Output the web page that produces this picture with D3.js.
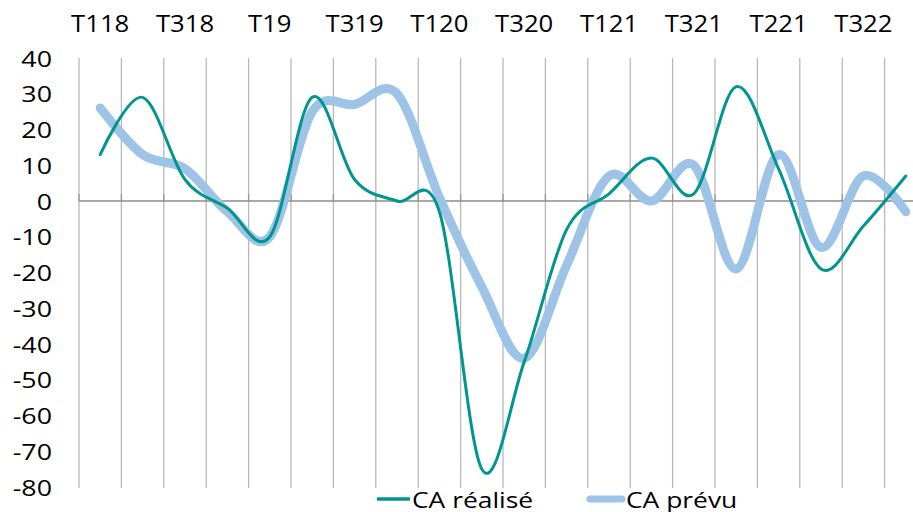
<!DOCTYPE html>
<html>
<head>
<meta charset="utf-8">
<script src="https://cdn.jsdelivr.net/npm/d3@7"></script>
<style>
  html, body { margin: 0; padding: 0; background: #fff; }
  svg { display: block; font-family: "Open Sans", sans-serif; }
</style>
</head>
<body>
<div id="chart"></div>
<script>
// quarters T1 2018 .. T4 2022
const quarters = [
  "T118", "T218", "T318", "T418", "T119", "T219", "T319", "T419",
  "T120", "T220", "T320", "T420", "T121", "T221", "T321", "T421",
  "T122", "T222", "T322", "T422"
];
// labels printed on top, every second quarter (as in the source)
const tickLabels = ["T118", "T318", "T19", "T319", "T120", "T320", "T121", "T321", "T221", "T322"];
const yTicks = [40, 30, 20, 10, 0, -10, -20, -30, -40, -50, -60, -70, -80];

const caRealise = [13, 29, 6, -2, -10, 29, 6, 0, -3, -75, -45, -8, 2, 12, 2, 32, 9, -19, -7, 7];
const caPrevu   = [26, 13, 9, -3, -10, 25, 27, 30, 1, -24, -44, -18, 7, 0, 10, -19, 13, -13, 7, -3];

const series = [
  { name: "CA réalisé", values: caRealise, color: "#00968f", width: 3 },
  { name: "CA prévu", values: caPrevu, color: "#9dc3e6", width: 9 }
];

const W = 913, H = 512;
const left = 79, step = 42.4;

const svg = d3.select("#chart").append("svg")
  .attr("width", W)
  .attr("height", H);

const x = d3.scaleBand()
  .domain(quarters)
  .range([left, left + step * quarters.length])
  .paddingInner(0)
  .paddingOuter(0);

const y = d3.scaleLinear()
  .domain([-80, 40])
  .range([487, 58]);

const cx = d => x(d) + x.bandwidth() / 2;

// vertical grid lines at category boundaries
const edges = quarters.map(q => x(q)).concat([x.range()[1]]);
svg.append("g")
  .selectAll("line")
  .data(edges)
  .join("line")
  .attr("x1", d => d).attr("x2", d => d)
  .attr("y1", y(40)).attr("y2", y(-80) + 1)
  .attr("stroke", "#b8b8b8")
  .attr("stroke-width", 1.3);

// small tick marks on the zero axis
svg.append("g")
  .selectAll("line")
  .data(edges)
  .join("line")
  .attr("x1", d => d).attr("x2", d => d)
  .attr("y1", y(0) - 7).attr("y2", y(0))
  .attr("stroke", "#999")
  .attr("stroke-width", 1.3);

// zero line
svg.append("line")
  .attr("x1", left).attr("x2", W)
  .attr("y1", y(0)).attr("y2", y(0))
  .attr("stroke", "#8c8c8c")
  .attr("stroke-width", 1.3);

// y labels
svg.append("g")
  .selectAll("text")
  .data(yTicks)
  .join("text")
  .attr("transform", d => `translate(52,${y(d) + 8.5}) scale(1.22,1)`)
  .attr("text-anchor", "end")
  .attr("font-size", 22)
  .attr("fill", "#000")
  .text(d => d);

// top category labels
svg.append("g")
  .selectAll("text")
  .data(tickLabels)
  .join("text")
  .attr("transform", (d, i) => `translate(${cx(quarters[i * 2])},32) scale(1.07,1)`)
  .attr("text-anchor", "middle")
  .attr("font-size", 24)
  .attr("fill", "#000")
  .text(d => d);

// lines
const line = d3.line()
  .x((d, i) => cx(quarters[i]))
  .y(d => y(d))
  .curve(d3.curveCardinal.tension(0));

svg.append("g")
  .selectAll("path")
  .data(series.slice().reverse())
  .join("path")
  .attr("d", d => line(d.values))
  .attr("fill", "none")
  .attr("stroke", d => d.color)
  .attr("stroke-width", d => d.width)
  .attr("stroke-linecap", "round")
  .attr("stroke-linejoin", "round");

// legend
const legendPos = [377, 587];
const lg = svg.append("g")
  .selectAll("g")
  .data(series)
  .join("g")
  .attr("transform", (d, i) => `translate(${legendPos[i]},499)`);

lg.append("line")
  .attr("x1", d => d.width > 5 ? 3 : 0)
  .attr("x2", d => d.width > 5 ? 35 : 33)
  .attr("stroke", d => d.color)
  .attr("stroke-width", d => d.width > 5 ? 7 : 3.5)
  .attr("stroke-linecap", d => d.width > 5 ? "round" : "butt");

lg.append("text")
  .attr("transform", (d, i) => `translate(${i ? 39 : 35},9) scale(1.2,1)`)
  .attr("font-size", 22)
  .attr("fill", "#000")
  .text(d => d.name);
</script>
</body>
</html>
